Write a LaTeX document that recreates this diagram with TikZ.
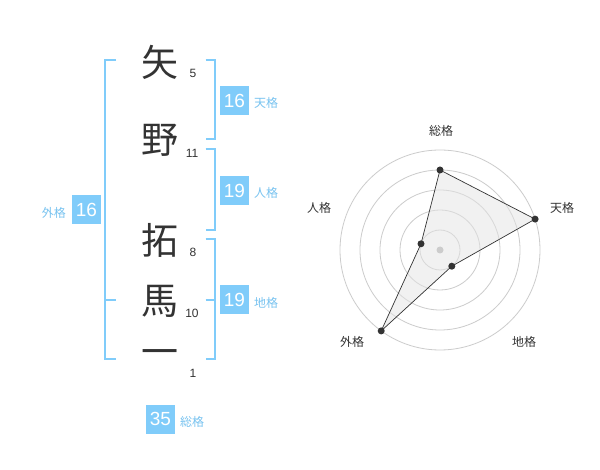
\documentclass[tikz,border=0pt]{standalone}
\usepackage{fontspec}
\setmainfont{Liberation Sans}
\newfontfamily\jpfont{Noto Sans CJK JP}
\definecolor{kblue}{RGB}{128,204,250}
\definecolor{klabel}{RGB}{120,195,240}
\definecolor{kdark}{RGB}{51,51,51}
\definecolor{kgrid}{RGB}{204,204,204}
\definecolor{kfill}{RGB}{228,228,228}
\tikzset{
  bigchar/.style={font=\jpfont\fontsize{37}{37}\selectfont, text=kdark, inner sep=0pt},
  strokes/.style={font=\fontsize{12}{12}\selectfont, text=kdark, inner sep=0pt},
  numbox/.style={fill=kblue, text=white, minimum width=29pt, minimum height=29pt, inner sep=0pt, font=\fontsize{19}{19}\selectfont},
  kaku/.style={font=\jpfont\fontsize{12}{12}\selectfont, text=klabel, inner sep=0pt},
  brk/.style={draw=kblue, line width=2pt},
  axlabel/.style={font=\jpfont\fontsize{12}{12}\selectfont, text=kdark, inner sep=0pt},
  ring/.style={draw=kgrid, line width=0.8pt},
  dot/.style={circle, fill=kdark, inner sep=0pt, minimum size=7pt},
}
\begin{document}
\begin{tikzpicture}[x=1pt,y=-1pt]
\fill[white] (0,0) rectangle (600,470);
\useasboundingbox (0,0) rectangle (600,470);
% characters
\node[bigchar] (c1) at (160,62) {矢};
\node[bigchar] (c2) at (160,140) {野};
\node[bigchar] (c3) at (160,240) {拓};
\node[bigchar] (c4) at (160,301) {馬};
\node[bigchar] (c5) at (160,358) {一};
% stroke counts
\node[strokes] (s1) at (193,73) {5};
\node[strokes] (s2) at (192,153) {11};
\node[strokes] (s3) at (193,252) {8};
\node[strokes] (s4) at (192,313) {10};
\node[strokes] (s5) at (193,373) {1};
% right brackets
\draw[brk] (205.5,60) -- (214.5,60) -- (214.5,139.5) -- (205.5,139.5);
\draw[brk] (205.5,149.5) -- (214.5,149.5) -- (214.5,230) -- (205.5,230);
\draw[brk] (205.5,239.5) -- (214.5,239.5) -- (214.5,359.5) -- (205.5,359.5);
\draw[brk] (205.5,300) -- (214.5,300);
% left bracket
\draw[brk] (116,60) -- (105,60) -- (105,359.5) -- (116,359.5);
\draw[brk] (105,300) -- (116,300);
% boxes
\node[numbox] (ten) at (234.5,100.5) {16};
\node[kaku, anchor=west] (tenl) at (254,103) {天格};
\node[numbox] (jin) at (234.5,190.5) {19};
\node[kaku, anchor=west] (jinl) at (254,193) {人格};
\node[numbox] (chi) at (234.5,300) {19};
\node[kaku, anchor=west] (chil) at (254,303) {地格};
\node[numbox] (gai) at (86.5,210) {16};
\node[kaku, anchor=east] (gail) at (66,213) {外格};
\node[numbox] (sou) at (160.5,419) {35};
\node[kaku, anchor=west] (soul) at (180,422) {総格};
% radar
\coordinate (rc) at (440,250);
\foreach \r in {20,40,60,80,100} \draw[ring] (rc) circle (\r);
\coordinate (p1) at (440,170);
\coordinate (p2) at (535.1,219.1);
\coordinate (p3) at (451.8,266.2);
\coordinate (p4) at (381.2,330.9);
\coordinate (p5) at (421,243.8);
\fill[kfill, fill opacity=0.5] (p1) -- (p2) -- (p3) -- (p4) -- (p5) -- cycle;
\draw[kdark, line width=0.7pt] (p1) -- (p2) -- (p3) -- (p4) -- (p5) -- cycle;
\fill[kgrid] (rc) circle (3.5);
\foreach \p in {p1,p2,p3,p4,p5} \node[dot] at (\p) {};
\node[axlabel] (a1) at (441,131) {総格};
\node[axlabel] (a2) at (562,208) {天格};
\node[axlabel] (a3) at (524,342) {地格};
\node[axlabel] (a4) at (352,342) {外格};
\node[axlabel] (a5) at (319,208) {人格};
\end{tikzpicture}
\end{document}
